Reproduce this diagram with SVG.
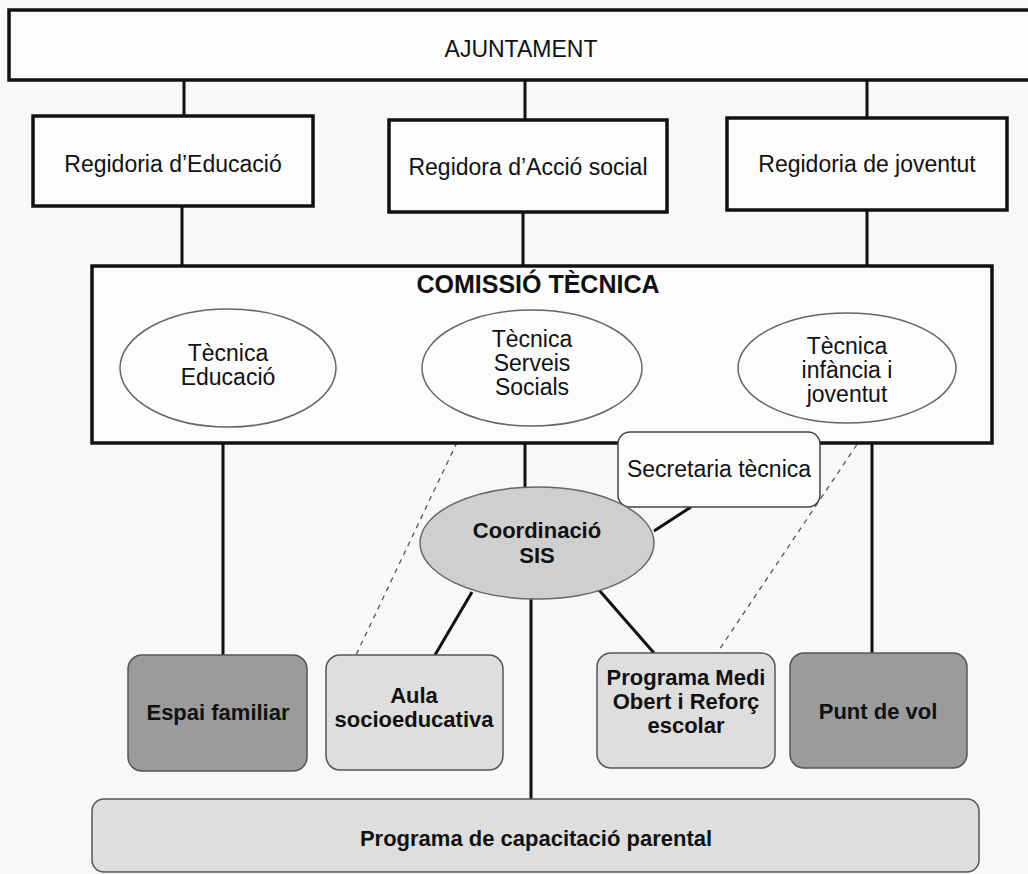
<svg xmlns="http://www.w3.org/2000/svg" width="1028" height="874" viewBox="0 0 1028 874">
<style>
.box{fill:#fcfcfc;stroke:#111;stroke-width:3.5}
.ell{fill:#fcfcfc;stroke:#666;stroke-width:1.5}
.t{font-family:"Liberation Sans",Arial,sans-serif;font-size:23px;fill:#111;text-anchor:middle}
.b{font-weight:bold;font-size:22px}
.ln{stroke:#111;stroke-width:3;fill:none}
.dash{stroke:#555;stroke-width:1.3;stroke-dasharray:5 5;fill:none}
.dark{fill:#9b9b9b;stroke:#555;stroke-width:1.5}
.light{fill:#dedede;stroke:#555;stroke-width:1.5}
</style>
<rect width="1028" height="874" fill="#f8f8f8"/>
<g id="connectors">
<line class="ln" x1="184" y1="80" x2="184" y2="116"/>
<line class="ln" x1="525" y1="80" x2="525" y2="120"/>
<line class="ln" x1="867" y1="80" x2="867" y2="118"/>
<line class="ln" x1="182" y1="206" x2="182" y2="266"/>
<line class="ln" x1="523" y1="212" x2="523" y2="266"/>
<line class="ln" x1="867" y1="210" x2="867" y2="266"/>
<line class="ln" x1="223" y1="427" x2="223" y2="655"/>
<line class="ln" x1="872" y1="423" x2="872" y2="653"/>
<line class="ln" x1="525" y1="443" x2="525" y2="487"/>
<line class="ln" x1="691" y1="507" x2="654" y2="531"/>
<line class="ln" x1="472" y1="592" x2="435" y2="655"/>
<line class="ln" x1="599" y1="590" x2="654" y2="653"/>
<line class="ln" x1="531" y1="599" x2="531" y2="800"/>
<line class="dash" x1="470" y1="415" x2="356" y2="655"/>
<line class="dash" x1="868" y1="428" x2="717" y2="653"/>
</g>
<g id="ajuntament">
<rect class="box" x="9" y="10" width="1030" height="70"/>
<text class="t" x="521" y="57">AJUNTAMENT</text>
</g>
<g id="reg-educacio">
<rect class="box" x="33" y="116" width="280" height="90"/>
<text class="t" x="173" y="172">Regidoria d’Educació</text>
</g>
<g id="reg-accio-social">
<rect class="box" x="389" y="120" width="278" height="92"/>
<text class="t" x="528" y="175">Regidora d’Acció social</text>
</g>
<g id="reg-joventut">
<rect class="box" x="727" y="118" width="280" height="92"/>
<text class="t" x="867" y="172">Regidoria de joventut</text>
</g>
<g id="comissio">
<rect class="box" x="92" y="266" width="900" height="177"/>
<text class="t b" x="538" y="293" style="font-size:25px">COMISSIÓ TÈCNICA</text>
</g>
<g id="tec-educacio">
<ellipse class="ell" cx="228" cy="368" rx="108" ry="59"/>
<text class="t" x="228" y="361">Tècnica</text>
<text class="t" x="228" y="385">Educació</text>
</g>
<g id="tec-serveis">
<ellipse class="ell" cx="532" cy="368" rx="110" ry="58"/>
<text class="t" x="532" y="347">Tècnica</text>
<text class="t" x="532" y="371">Serveis</text>
<text class="t" x="532" y="395">Socials</text>
</g>
<g id="tec-infancia">
<ellipse class="ell" cx="847" cy="368" rx="109" ry="55"/>
<text class="t" x="847" y="354">Tècnica</text>
<text class="t" x="847" y="378">infància i</text>
<text class="t" x="847" y="402">joventut</text>
</g>
<g id="secretaria">
<rect x="618" y="432" width="202" height="75" rx="12" fill="#fcfcfc" stroke="#444" stroke-width="1.5"/>
<text class="t" x="719" y="477">Secretaria tècnica</text>
</g>
<g id="coordinacio">
<ellipse cx="537" cy="543" rx="117" ry="56" fill="#cfcfcf" stroke="#666" stroke-width="1.5"/>
<text class="t b" x="537" y="538">Coordinació</text>
<text class="t b" x="537" y="563">SIS</text>
</g>
<g id="espai-familiar">
<rect class="dark" x="128" y="655" width="179" height="116" rx="14"/>
<text class="t b" x="218" y="720">Espai familiar</text>
</g>
<g id="aula">
<rect class="light" x="326" y="655" width="177" height="115" rx="14"/>
<text class="t b" x="414" y="703">Aula</text>
<text class="t b" x="414" y="727">socioeducativa</text>
</g>
<g id="medi-obert">
<rect class="light" x="597" y="653" width="178" height="115" rx="14"/>
<text class="t b" x="686" y="685">Programa Medi</text>
<text class="t b" x="686" y="709">Obert i Reforç</text>
<text class="t b" x="686" y="733">escolar</text>
</g>
<g id="punt-de-vol">
<rect class="dark" x="790" y="653" width="177" height="115" rx="14"/>
<text class="t b" x="878" y="719">Punt de vol</text>
</g>
<g id="capacitacio">
<rect class="light" x="92" y="799" width="887" height="73" rx="12"/>
<text class="t b" x="536" y="846">Programa de capacitació parental</text>
</g>
</svg>
